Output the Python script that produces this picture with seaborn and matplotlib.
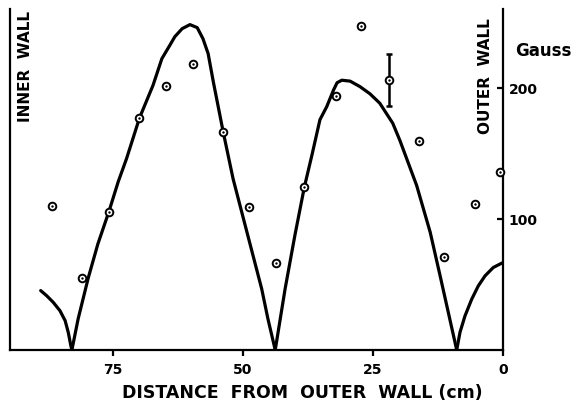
import matplotlib
matplotlib.use("Agg")
import matplotlib.pyplot as plt
import pandas as pd
import seaborn as sns

# Measured field (gauss) vs. distance from the outer wall (cm)
distance_cm = [86.8, 81.0, 75.8, 69.9, 64.8, 59.6, 53.8, 48.8, 43.7,
               38.2, 32.2, 27.3, 21.9, 16.1, 11.3, 5.4, 0.6]
field_gauss = [110, 55, 105, 177, 201, 218, 166, 109, 66,
               124, 194, 247, 206, 159, 71, 111, 136]
field_error = [0, 0, 0, 0, 0, 0, 0, 0, 0,
               0, 0, 0, 20, 0, 0, 0, 0]

# Calculated field profile, one list pair per lobe
lobe1_x = [88.9, 87.75, 86.5, 85.2, 84.2, 83.6, 83.1, 82.9]
lobe1_y = [45.3, 41.4, 36.4, 30.0, 22.4, 13.5, 3.3, 0.0]
lobe2_x = [82.9, 81.7, 79.75, 77.9, 75.8, 74.0, 72.4, 69.9, 67.3, 65.6,
           64.0, 63.1, 61.7, 60.2, 58.8, 57.7, 56.7, 55.7, 53.8, 51.9,
           49.2, 46.4, 45.2, 43.8]
lobe2_y = [0.0, 23.7, 55.0, 80.9, 105.3, 128.2, 145.8, 176.9, 201.8, 222.1,
           232.8, 238.9, 245.0, 248.1, 245.8, 237.4, 226.0, 204.4, 166.2, 130.5,
           89.3, 46.6, 23.7, 0.0]
lobe3_x = [43.8, 41.9, 40.0, 38.2, 36.7, 35.2, 33.9, 32.6, 31.9, 31.0,
           29.4, 27.5, 25.6, 23.7, 21.2, 19.8, 16.6, 14.0, 12.1, 8.9]
lobe3_y = [0.0, 46.6, 87.8, 124.2, 149.3, 175.6, 185.5, 198.1, 203.8, 205.7,
           205.0, 200.8, 195.4, 188.2, 172.9, 159.5, 125.4, 89.8, 56.7, 0.0]
lobe4_x = [8.9, 8.27, 7.31, 6.02, 4.75, 3.46, 1.87, 0.25, 0.0]
lobe4_y = [0.0, 13.5, 26.0, 38.7, 48.9, 56.5, 62.9, 66.2, 66.5]

x_ticks = [75, 50, 25, 0]
y_ticks = [100, 200]

sns.set_theme(style="white")
plt.rcParams["font.family"] = ["DejaVu Sans"]

W, H = 573, 402
fig = plt.figure(figsize=(W / 100, H / 100), dpi=100)
ax = fig.add_axes([10 / W, 1 - 351 / H, 493 / W, 341 / H])

curve = pd.concat([
    pd.DataFrame({"x": xs, "y": ys, "lobe": i})
    for i, (xs, ys) in enumerate([(lobe1_x, lobe1_y), (lobe2_x, lobe2_y),
                                  (lobe3_x, lobe3_y), (lobe4_x, lobe4_y)])
])
sns.lineplot(data=curve, x="x", y="y", units="lobe", estimator=None,
             sort=False, color="black", linewidth=2.3, ax=ax,
             solid_joinstyle="round", solid_capstyle="round")

pts = pd.DataFrame({"x": distance_cm, "y": field_gauss, "err": field_error})
bars = pts[pts["err"] > 0]
ax.errorbar(bars["x"], bars["y"], yerr=bars["err"], fmt="none",
            ecolor="black", elinewidth=1.8, capsize=2.5, capthick=1.8, zorder=3)
sns.scatterplot(data=pts, x="x", y="y", marker="o", s=30, facecolor="white",
                edgecolor="black", linewidth=1.4, ax=ax, zorder=4, clip_on=False)
sns.scatterplot(data=pts, x="x", y="y", marker="o", s=3, color="black",
                linewidth=0, ax=ax, zorder=5, clip_on=False)

ax.set_xlim(94.8, 0)
ax.set_ylim(0, 260)
ax.set_xlabel("")
ax.set_ylabel("")
ax.set_xticks(x_ticks)
ax.set_xticklabels([str(t) for t in x_ticks])
ax.set_yticks(y_ticks)
ax.set_yticklabels([str(t) for t in y_ticks])
ax.yaxis.tick_right()

for side in ["left", "bottom", "right"]:
    ax.spines[side].set_visible(True)
    ax.spines[side].set_color("black")
    ax.spines[side].set_linewidth(1.6)
ax.spines["top"].set_visible(False)

ax.tick_params(axis="x", direction="out", length=4, width=1.6, pad=5,
               colors="black", bottom=True)
ax.tick_params(axis="y", direction="in", length=4, width=1.6, pad=4,
               colors="black", right=True, left=False)
for lab in ax.get_xticklabels() + ax.get_yticklabels():
    lab.set_fontweight("bold")
    lab.set_fontsize(10)

fig.text(26 / W, 1 - 67 / H, "INNER  WALL", rotation=90, ha="center",
         va="center", fontsize=11, fontweight="bold", color="black")
fig.text(486 / W, 1 - 76 / H, "OUTER  WALL", rotation=90, ha="center",
         va="center", fontsize=11, fontweight="bold", color="black")
fig.text(543 / W, 1 - 51 / H, "Gauss", ha="center", va="center",
         fontsize=12, fontweight="bold", color="black")
fig.text(302 / W, 1 - 393 / H, "DISTANCE  FROM  OUTER  WALL (cm)",
         ha="center", va="center", fontsize=12.5, fontweight="bold",
         color="black")

fig.savefig("out.png", dpi=100, facecolor="white")
